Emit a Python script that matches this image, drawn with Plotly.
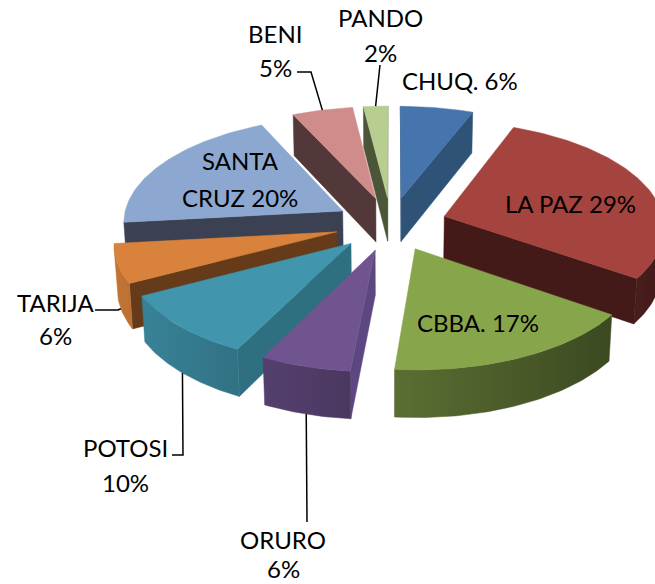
import numpy as np
import plotly.graph_objects as go

# ---------------- data ----------------
names = ["CHUQ.", "LA PAZ", "CBBA.", "ORURO", "POTOSI", "TARIJA", "SANTA CRUZ", "BENI", "PANDO"]
values = [6, 29, 17, 6, 10, 6, 20, 5, 2]

# ---------------- styles ----------------
top_colors = ["#4674AD", "#A5433F", "#87A54B", "#6F5490", "#4196AE",
              "#D9823B", "#8DA8D0", "#CF8C8A", "#B8CD90"]
cut_colors = ["#2F5377", "#441A19", "#4F6328", "#5D4780", "#2F7080",
              "#653B1A", "#3B4152", "#523838", "#4B5638"]
label_lines_fmt = [["{n} {p}"], ["{n} {p}"], ["{n} {p}"], ["{n}", "{p}"], ["{n}", "{p}"],
                   ["{n}", "{p}"], ["SANTA", "CRUZ {p}"], ["{n}", "{p}"], ["{n}", "{p}"]]
label_pos = [(460, 80), (570, 203), (478, 322), (283, 539), (125, 447),
             (55, 302), (240, 160), (275, 33), (380, 17)]
LINE_PITCH = [33, 33, 33, 29, 35, 33, 37, 34, 35]
leaders = {
    3: ([(307, 522)], "bottom"),
    4: ([(172, 455), (183, 455)], "bottom"),
    5: ([(95, 310), (118, 310)], "bottom"),
    7: ([(297, 72), (311, 72)], "top"),
    8: ([(380, 65)], "top"),
}

FONT = dict(family="Lato, 'Open Sans', sans-serif", size=24, color="black")

# ---------------- 3D projection ----------------
W, H = 655, 584
CX, CY = 391, 224
S = 220
ELEV = np.radians(28.5)
DIST = 9.5
EXPL = 0.255
THICK = 0.23
CAM = np.array([0.0, DIST * np.sin(ELEV), DIST * np.cos(ELEV)])


def proj(X, Y, Z):
    X = np.asarray(X, float); Y = np.asarray(Y, float); Z = np.asarray(Z, float)
    yc = Y * np.cos(ELEV) - Z * np.sin(ELEV)
    zc = Y * np.sin(ELEV) + Z * np.cos(ELEV)
    k = DIST / (DIST - zc)
    return CX + S * X * k, CY - S * yc * k


def dirv(deg):
    p = np.radians(deg)
    return np.sin(p), -np.cos(p)


def rgb(hexc):
    h = hexc.lstrip("#")
    return [int(h[i:i + 2], 16) for i in (0, 2, 4)]


def shade(hexc, f):
    r, g, b = rgb(hexc)
    return "rgb(%d,%d,%d)" % (min(255, r * f), min(255, g * f), min(255, b * f))


def visible(normal_xz, point):
    n = np.array([normal_xz[0], 0.0, normal_xz[1]])
    return np.dot(n, CAM - np.array(point)) > 0


total = float(sum(values))
pcts = ["%d%%" % round(v / total * 100) for v in values]
angles = np.cumsum([0] + [v / total * 360 for v in values])

fig = go.Figure()


def poly(xs, ys, color, gradient=None):
    kw = {}
    if gradient is not None:
        kw["fillgradient"] = dict(type="horizontal", colorscale=gradient)
    fig.add_trace(go.Scatter(x=list(xs) + [xs[0]], y=list(ys) + [ys[0]], mode="lines",
                             fill="toself", fillcolor=color,
                             line=dict(color=color, width=0.5),
                             hoverinfo="skip", showlegend=False, **kw))


slices = []
for i, v in enumerate(values):
    a0, a1 = angles[i], angles[i + 1]
    am = (a0 + a1) / 2
    ox, oz = EXPL * np.array(dirv(am))
    cz = oz - 0.5 * np.cos(np.radians(am))
    slices.append((cz, i, a0, a1, am, ox, oz))

slices.sort()
for cz, i, a0, a1, am, ox, oz in slices:
    n = max(3, int((a1 - a0) / 1.0) + 1)
    phis = np.linspace(a0, a1, n)
    dx, dz = dirv(phis)
    # cut faces
    for ang, nang in ((a0, a0 - 90), (a1, a1 + 90)):
        ux, uz = dirv(ang)
        if visible(dirv(nang), (ox, 0, oz)):
            X = [ox, ox + ux, ox + ux, ox]
            Y = [0, 0, -THICK, -THICK]
            Z = [oz, oz + uz, oz + uz, oz]
            px, py = proj(X, Y, Z)
            poly(px, py, cut_colors[i])
    # outer wall (visible part, one polygon with horizontal gradient)
    vis = []
    for j in range(n):
        mx, mz = dirv(phis[j])
        vis.append(visible((mx, mz), (ox + mx, -THICK / 2, oz + mz)))
    idx = [j for j in range(n) if vis[j]]
    if len(idx) >= 2:
        ph = phis[idx[0]:idx[-1] + 1]
        wx, wz = dirv(ph)
        tx, ty = proj(ox + wx, np.zeros_like(ph), oz + wz)
        bx, by = proj(ox + wx, np.full_like(ph, -THICK), oz + wz)
        xs = np.concatenate([tx, bx[::-1]])
        ys = np.concatenate([ty, by[::-1]])
        mxs, _ = proj(ox + wx, np.full_like(ph, -THICK / 2), oz + wz)
        fvals = 0.65 - 0.25 * np.sin(np.radians(ph))
        lo, hi = xs.min(), xs.max()
        if hi - lo < 1e-6:
            hi = lo + 1
        pos = (mxs - lo) / (hi - lo)
        order = np.argsort(pos)
        cs = []
        lastp = -1
        for o in order:
            p = float(np.clip(pos[o], 0, 1))
            if p <= lastp:
                continue
            cs.append([p, shade(top_colors[i], fvals[o])])
            lastp = p
        if cs[0][0] > 0:
            cs.insert(0, [0.0, cs[0][1]])
        if cs[-1][0] < 1:
            cs.append([1.0, cs[-1][1]])
        midf = float(np.mean(fvals))
        poly(xs, ys, shade(top_colors[i], midf), gradient=cs)
    # top face
    X = np.concatenate([[ox], ox + dx])
    Z = np.concatenate([[oz], oz + dz])
    px, py = proj(X, np.zeros_like(X), Z)
    poly(px, py, top_colors[i])

# labels
annotations = []
for i in range(len(values)):
    x0, y0 = label_pos[i]
    for k, fmt in enumerate(label_lines_fmt[i]):
        annotations.append(dict(x=x0, y=y0 + k * LINE_PITCH[i], xref="x", yref="y",
                                text=fmt.format(n=names[i], p=pcts[i]), showarrow=False,
                                font=FONT, xanchor="center", yanchor="middle"))

# leader lines
for i, (pts, where) in leaders.items():
    a0, a1 = angles[i], angles[i + 1]
    am = (a0 + a1) / 2
    ox, oz = EXPL * np.array(dirv(am))
    ux, uz = dirv(am)
    yy = 0 if where == "top" else -THICK
    ex, ey = proj([ox + ux], [yy], [oz + uz])
    xs = [p[0] for p in pts] + [float(ex[0])]
    ys = [p[1] for p in pts] + [float(ey[0])]
    fig.add_trace(go.Scatter(x=xs, y=ys, mode="lines", line=dict(color="black", width=1.5),
                             hoverinfo="skip", showlegend=False))

fig.update_layout(
    width=W, height=H, autosize=False,
    margin=dict(l=0, r=0, t=0, b=0),
    paper_bgcolor="white", plot_bgcolor="white",
    xaxis=dict(range=[0, W], visible=False, fixedrange=True),
    yaxis=dict(range=[H, 0], visible=False, fixedrange=True),
    annotations=annotations,
)
fig.write_html("out.html", config={"displayModeBar": False},
               post_script="document.body.style.margin='0px';document.body.style.overflow='hidden';")
